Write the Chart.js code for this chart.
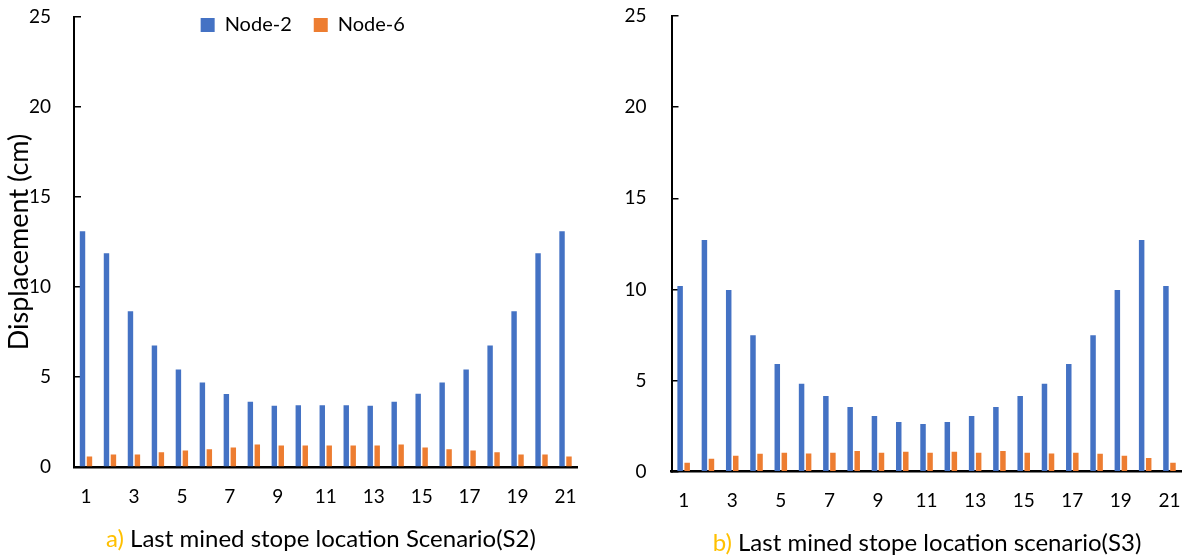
<!DOCTYPE html>
<html>
<head>
<meta charset="utf-8">
<script src="https://cdn.jsdelivr.net/npm/chart.js@4.4.1/dist/chart.umd.min.js"></script>
<style>
	body { margin: 0; background: #fff; width: 1190px; height: 558px; overflow: hidden; position: relative; font-family: Lato, sans-serif; }
	.box { position: absolute; top: 0; height: 558px; }
	#box-a { left: 0; width: 590px; }
	#box-b { left: 590px; width: 600px; }
	.caption { position: absolute; font-size: 24px; color: #000; white-space: nowrap; transform: translate(-50%, -50%); }
	.caption span { color: #FFC000; }
</style>
</head>
<body>
<div class="box" id="box-a"><canvas id="chart-s2"></canvas></div>
<div class="box" id="box-b"><canvas id="chart-s3"></canvas></div>
<div class="caption" style="left:321px; top:537px;"><span>a)</span> Last mined stope location Scenario(S2)</div>
<div class="caption" style="left:927px; top:541px;"><span>b)</span> Last mined stope location scenario(S3)</div>

<script>
// --- data ---
var stopes = ['1', '2', '3', '4', '5', '6', '7', '8', '9', '10', '11', '12', '13', '14', '15', '16', '17', '18', '19', '20', '21'];
var shownTicks = ['1', '3', '5', '7', '9', '11', '13', '15', '17', '19', '21'];
var yTicks = [0, 5, 10, 15, 20, 25];

// scenario S2
var s2Node2 = [13.1, 11.88, 8.65, 6.75, 5.42, 4.7, 4.05, 3.62, 3.4, 3.43, 3.43, 3.43, 3.4, 3.62, 4.07, 4.7, 5.42, 6.75, 8.65, 11.88, 13.1];
var s2Node6 = [0.59, 0.69, 0.69, 0.82, 0.91, 0.98, 1.09, 1.25, 1.2, 1.2, 1.2, 1.2, 1.2, 1.25, 1.09, 0.98, 0.91, 0.82, 0.69, 0.7, 0.59];

// scenario S3
var s3Node2 = [10.19, 12.71, 9.97, 7.48, 5.91, 4.83, 4.15, 3.55, 3.05, 2.72, 2.61, 2.72, 3.05, 3.55, 4.15, 4.83, 5.91, 7.48, 9.97, 12.71, 10.19];
var s3Node6 = [0.49, 0.71, 0.88, 0.99, 1.04, 1.0, 1.04, 1.13, 1.04, 1.1, 1.04, 1.1, 1.04, 1.13, 1.04, 1.0, 1.04, 0.99, 0.88, 0.75, 0.49];

var blue = '#4472C4';
var orange = '#ED7D31';


// legend sits inside the plot, laid out in one row, then nudged into place
var legendShift = {
	id: 'legendShift',
	beforeLayout: function(chart, args, opts) {
		if (chart.legend && opts.on) {
			chart.legend.isHorizontal = function() { return true; };
		}
	},
	afterLayout: function(chart, args, opts) {
		var lg = chart.legend;
		if (!lg || !opts.on) return;
		lg.left += opts.dx; lg.right += opts.dx;
		lg.top += opts.dy; lg.bottom += opts.dy;
	}
};


function makeChart(id, node2, node6, o) {
	var ctx = document.getElementById(id).getContext('2d');
	return new Chart(ctx, {
		type: 'bar',
		data: {
			labels: stopes,
			datasets: [{
				label: 'Node-2',
				data: node2,
				backgroundColor: blue,
				categoryPercentage: 0.58,
				barPercentage: 0.78
			}, {
				label: 'Node-6',
				data: node6,
				backgroundColor: orange,
				categoryPercentage: 0.58,
				barPercentage: 0.78
			}]
		},
		plugins: [legendShift],
		options: {
			responsive: true,
			maintainAspectRatio: false,
			animation: false,
			layout: {
				padding: { left: 0, right: o.padRight, top: o.padTop, bottom: 0 }
			},
			plugins: {
				legend: {
					display: o.legend,
					position: 'chartArea',
					align: 'center',
					labels: {
						boxWidth: 14,
						boxHeight: 14,
						padding: 22,
						color: '#000',
						font: { family: 'Lato', size: 20 }
					}
				},
				legendShift: { on: o.legend, dx: 51, dy: -24 },
				tooltip: { enabled: false }
			},
			scales: {
				x: {
					grid: { display: false, drawTicks: false },
					border: { display: true, color: '#000', width: 2.5 },
					ticks: {
						autoSkip: false,
						maxRotation: 0,
						padding: 18,
						color: '#000',
						font: { family: 'Lato', size: 19 },
						callback: function(v, i) {
							return shownTicks.indexOf(stopes[i]) >= 0 ? stopes[i] : '';
						}
					},
					afterFit: function(s) {
						s.height = o.xHeight;
						s.paddingLeft = 0; s.paddingRight = 0;
					}
				},
				y: {
					min: 0,
					max: 25,
					afterBuildTicks: function(s) {
						s.ticks = yTicks.map(function(v) { return { value: v }; });
					},
					grid: { drawOnChartArea: false, drawTicks: true, tickLength: -7, color: '#000', lineWidth: 1.5 },
					border: { display: true, color: '#000', width: 2 },
					ticks: {
						padding: o.tickPad,
						color: '#000',
						font: { family: 'Lato', size: 19 }
					},
					title: {
						display: o.yTitle,
						text: 'Displacement (cm)',
						color: '#000',
						font: { family: 'Lato', size: 27 },
						padding: { top: 3, bottom: 0 }
					},
					afterFit: function(s) {
						s.width = o.yWidth;
						s.paddingTop = 0; s.paddingBottom = 0;
					}
				}
			}
		}
	});
}


var chartS2 = makeChart('chart-s2', s2Node2, s2Node6, {
	legend: true, yTitle: true, yWidth: 74, padRight: 12.5, padTop: 17, xHeight: 91, tickPad: 30
});

var chartS3 = makeChart('chart-s3', s3Node2, s3Node6, {
	legend: false, yTitle: false, yWidth: 81.5, padRight: 8.4, padTop: 16, xHeight: 86.3, tickPad: 32
});
</script>
</body>
</html>
